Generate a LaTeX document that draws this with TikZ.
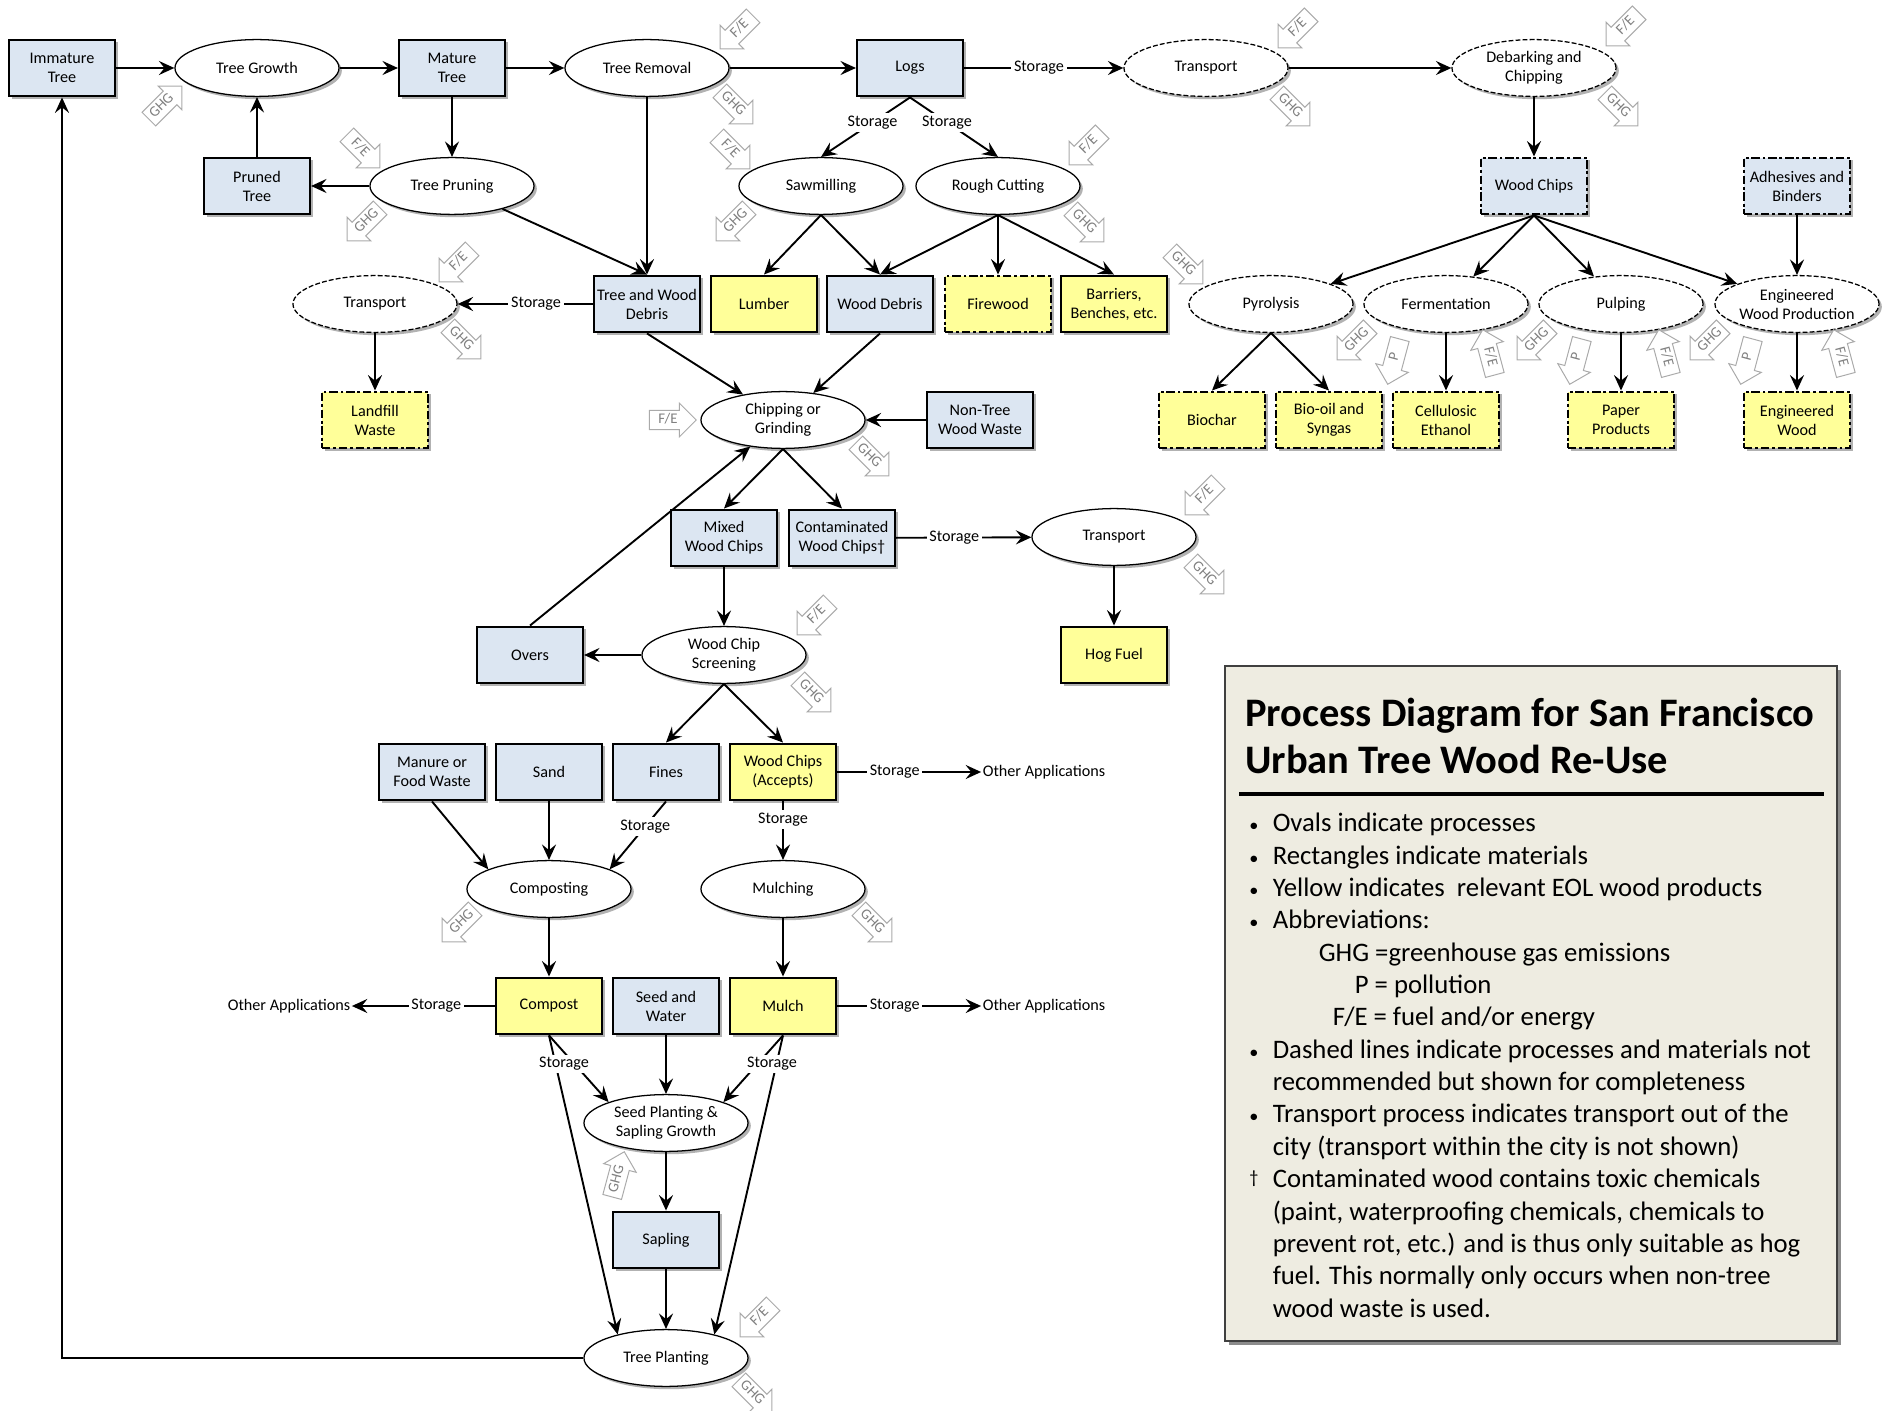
\documentclass[tikz,border=0pt]{standalone}
\usepackage{fontspec}
\setmainfont{Carlito}
\usetikzlibrary{
    arrows.meta,
    shapes.geometric,
    shapes.arrows,
    shadows
}
\definecolor{matblue}{RGB}{220,230,242}
\definecolor{prodyellow}{RGB}{255,255,153}
\definecolor{legendtan}{RGB}{238,236,225}
\definecolor{badgegray}{RGB}{170,170,170}
\definecolor{badgetext}{RGB}{128,128,128}

\newcommand{\legbullet}{{\fontsize{13}{13}\selectfont\textbullet}}
\newcommand{\legdagger}{\raisebox{0.35ex}{\fontsize{13}{13}\selectfont †}}

\tikzset{
    nodetext/.style={font=\fontsize{11.5}{13.5}\selectfont, align=center},
    nodeshadow/.style={drop shadow={shadow xshift=2pt, shadow yshift=-2pt, opacity=0.3, fill=black}},
    mat/.style={nodetext, nodeshadow, rectangle, draw, line width=1.5pt, fill=matblue,
        inner sep=1pt, minimum width=2.65cm, minimum height=1.42cm},
    matd/.style={mat, dash pattern=on 6pt off 2pt on 2pt off 2pt},
    prod/.style={mat, fill=prodyellow},
    prodd/.style={prod, dash pattern=on 6pt off 2pt on 2pt off 2pt},
    proc/.style={nodetext, nodeshadow, ellipse, draw, line width=0.9pt, fill=white,
        inner sep=0pt, minimum width=4.1cm, minimum height=1.42cm},
    procd/.style={proc, dash pattern=on 3.5pt off 1.5pt},
    lbl/.style={nodetext, fill=white, inner sep=2pt},
    plain/.style={nodetext, inner sep=1pt},
    flow/.style={line width=1.35pt, -{Stealth[length=11pt, width=10pt, inset=4pt]}},
    badge/.style={single arrow, draw=badgegray, fill=white, line width=0.7pt, text=badgetext,
        font=\fontsize{10.5}{10.5}\selectfont, text height=7pt, text depth=2pt, inner sep=2pt,
        minimum height=1.17cm, single arrow head extend=0.18cm, single arrow tip angle=90},
    badgeflip/.style={shape border rotate=180},
    legendbox/.style={draw=black!75, line width=1pt, fill=legendtan,
        drop shadow={shadow xshift=3pt, shadow yshift=-3pt, opacity=0.45, fill=black}},
}

\begin{document}
\begin{tikzpicture}[x=0.025cm, y=-0.025cm]
    \useasboundingbox (0,0) rectangle (1883,1411);

    % row 1
    \node[mat] (imm) at (62,68) {Immature\\Tree};
    \node[proc] (tg) at (257,68) {Tree Growth};
    \node[mat] (mat) at (452,68) {Mature\\Tree};
    \node[proc] (trem) at (647,68) {Tree Removal};
    \node[mat] (logs) at (910,68) {Logs};
    \node[procd] (trA) at (1206,68) {Transport};
    \node[procd] (deb) at (1534,68) {Debarking and\\Chipping};

    % row 2
    \node[mat] (pt) at (257,186) {Pruned\\Tree};
    \node[proc] (prun) at (452,186) {Tree Pruning};
    \node[proc] (saw) at (821,186) {Sawmilling};
    \node[proc] (rc) at (998,186) {Rough Cutting};
    \node[matd] (wc) at (1534,186) {Wood Chips};
    \node[matd] (adh) at (1797,186) {Adhesives and\\Binders};

    % row 3
    \node[procd] (trB) at (375,304) {Transport};
    \node[mat] (twd) at (647,304) {Tree and Wood\\Debris};
    \node[prod] (lum) at (764,304) {Lumber};
    \node[mat] (wd) at (880,304) {Wood Debris};
    \node[prodd] (fw) at (998,304) {Firewood};
    \node[prod] (bar) at (1114,304) {Barriers,\\Benches, etc.};
    \node[procd] (pyro) at (1271,304) {Pyrolysis};
    \node[procd] (ferm) at (1446,304) {Fermentation};
    \node[procd] (pulp) at (1621,304) {Pulping};
    \node[procd] (ewp) at (1797,304) {Engineered\\Wood Production};

    % row 4
    \node[prodd] (land) at (375,420) {Landfill\\Waste};
    \node[proc] (chip) at (783,420) {Chipping or\\Grinding};
    \node[mat] (ntww) at (980,420) {Non-Tree\\Wood Waste};
    \node[prodd] (bioc) at (1212,420) {Biochar};
    \node[prodd] (bio) at (1329,420) {Bio-oil and\\Syngas};
    \node[prodd] (cell) at (1446,420) {Cellulosic\\Ethanol};
    \node[prodd] (paper) at (1621,420) {Paper\\Products};
    \node[prodd] (ew) at (1797,420) {Engineered\\Wood};

    % rows 5 and 6
    \node[mat] (mixed) at (724,538) {Mixed\\Wood Chips};
    \node[mat] (cont) at (842,538) {Contaminated\\Wood Chips†};
    \node[proc] (trC) at (1114,537) {Transport};
    \node[mat] (overs) at (530,655) {Overs};
    \node[proc] (screen) at (724,655) {Wood Chip\\Screening};
    \node[prod] (hog) at (1114,655) {Hog Fuel};

    % rows 7 to 12
    \node[mat] (manure) at (432,772) {Manure or\\Food Waste};
    \node[mat] (sand) at (549,772) {Sand};
    \node[mat] (fines) at (666,772) {Fines};
    \node[prod] (acc) at (783,772) {Wood Chips\\(Accepts)};
    \node[plain] (oaA) at (1044,772) {Other Applications};
    \node[proc] (composting) at (549,889) {Composting};
    \node[proc] (mulching) at (783,889) {Mulching};
    \node[prod] (compost) at (549,1006) {Compost};
    \node[mat] (sw) at (666,1006) {Seed and\\Water};
    \node[prod] (mulch) at (783,1006) {Mulch};
    \node[plain] (oaB) at (289,1006) {Other Applications};
    \node[plain] (oaC) at (1044,1006) {Other Applications};
    \node[proc] (seed) at (666,1123) {Seed Planting \&\\Sapling Growth};
    \node[mat] (sap) at (666,1240) {Sapling};
    \node[proc] (tp) at (666,1358) {Tree Planting};

    % connectors
    \draw[flow] (imm) -- (tg);
    \draw[flow] (tg) -- (mat);
    \draw[flow] (mat) -- (trem);
    \draw[flow] (trem) -- (logs);
    \draw[flow] (logs) -- node[lbl, pos=0.47] {Storage} (trA);
    \draw[flow] (trA) -- (deb);
    \draw[flow] (deb) -- (wc);
    \draw[flow] (mat) -- (prun);
    \draw[flow] (prun) -- (pt);
    \draw[flow] (pt) -- (tg);
    \draw[flow] (prun) -- (twd.north);
    \draw[flow] (trem) -- (twd.north);
    \draw[flow] (logs.south) -- node[lbl, pos=0.42] {Storage} (saw.north);
    \draw[flow] (logs.south) -- node[lbl, pos=0.42] {Storage} (rc.north);
    \draw[flow] (saw.south) -- (lum.north);
    \draw[flow] (saw.south) -- (wd.north);
    \draw[flow] (rc.south) -- (wd.north);
    \draw[flow] (rc.south) -- (fw.north);
    \draw[flow] (rc.south) -- (bar.north);
    \draw[flow] (wc.south) -- (pyro);
    \draw[flow] (wc.south) -- (ferm);
    \draw[flow] (wc.south) -- (pulp);
    \draw[flow] (wc.south) -- (ewp);
    \draw[flow] (adh) -- (ewp);
    \draw[flow] (pyro.south) -- (bioc.north);
    \draw[flow] (pyro.south) -- (bio.north);
    \draw[flow] (ferm) -- (cell);
    \draw[flow] (pulp) -- (paper);
    \draw[flow] (ewp) -- (ew);
    \draw[flow] (twd) -- node[lbl, pos=0.42] {Storage} (trB);
    \draw[flow] (trB) -- (land);
    \draw[flow] (twd.south) -- (chip);
    \draw[flow] (wd.south) -- (chip);
    \draw[flow] (ntww) -- (chip);
    \draw[flow] (chip.south) -- (mixed.north);
    \draw[flow] (chip.south) -- (cont.north);
    \draw[flow] (cont) -- node[lbl, pos=0.43] {Storage} (trC);
    \draw[flow] (trC) -- (hog);
    \draw[flow] (mixed) -- (screen);
    \draw[flow] (screen) -- (overs);
    \draw[flow] (overs.north) -- (chip);
    \draw[flow] (screen.south) -- (fines.north);
    \draw[flow] (screen.south) -- (acc.north);
    \draw[flow] (acc) -- node[lbl, pos=0.4] {Storage} (oaA);
    \draw[flow] (acc) -- node[lbl, pos=0.31] {Storage} (mulching);
    \draw[flow] (fines.south) -- node[lbl, pos=0.37] {Storage} (composting.18);
    \draw[flow] (manure.south) -- (composting.162);
    \draw[flow] (sand) -- (composting);
    \draw[flow] (composting) -- (compost);
    \draw[flow] (mulching) -- (mulch);
    \draw[flow] (compost) -- node[lbl, pos=0.41] {Storage} (oaB);
    \draw[flow] (mulch) -- node[lbl, pos=0.4] {Storage} (oaC);
    \draw[flow] (compost.south) -- (seed.160);
    \draw[flow] (compost.south) -- (tp.154);
    \draw[flow] (mulch.south) -- (seed.20);
    \draw[flow] (mulch.south) -- (tp.26);
    \draw[flow] (sw) -- (seed);
    \draw[flow] (seed) -- (sap);
    \draw[flow] (sap) -- (tp);
    \draw[flow] (tp) -| (imm);
    \node[lbl] (stC) at (564,1064) {Storage};
    \node[lbl] (stM) at (772,1064) {Storage};

    % emission and energy badges
    \node[badge, rotate=45] (ghgTG) at (162,106) {GHG};
    \node[badge, rotate=-45] (feTP) at (360,148) {F/E};
    \node[badge, rotate=45, badgeflip] (ghgTP) at (367,221) {GHG};
    \node[badge, rotate=45, badgeflip] (feTR) at (740,29) {F/E};
    \node[badge, rotate=-45] (ghgTR) at (733,104) {GHG};
    \node[badge, rotate=-45] (feSM) at (730,149) {F/E};
    \node[badge, rotate=45, badgeflip] (ghgSM) at (736,221) {GHG};
    \node[badge, rotate=45, badgeflip] (feRC) at (1089,145) {F/E};
    \node[badge, rotate=-45] (ghgRC) at (1084,222) {GHG};
    \node[badge, rotate=45, badgeflip] (feTA) at (1298,28) {F/E};
    \node[badge, rotate=-45] (ghgTA) at (1290,106) {GHG};
    \node[badge, rotate=45, badgeflip] (feDC) at (1626,26) {F/E};
    \node[badge, rotate=-45] (ghgDC) at (1618,106) {GHG};
    \node[badge, rotate=-45] (ghgPY) at (1183,264) {GHG};
    \node[badge, rotate=45, badgeflip] (ghgFM) at (1357,340) {GHG};
    \node[badge, rotate=75, badgeflip] (pFM) at (1395,357) {P};
    \node[badge, rotate=-75, badgeflip] (feFM) at (1490,357) {F/E};
    \node[badge, rotate=45, badgeflip] (ghgPU) at (1537,340) {GHG};
    \node[badge, rotate=75, badgeflip] (pPU) at (1577,357) {P};
    \node[badge, rotate=-75, badgeflip] (fePU) at (1666,357) {F/E};
    \node[badge, rotate=45, badgeflip] (ghgEW) at (1710,340) {GHG};
    \node[badge, rotate=75, badgeflip] (pEW) at (1748,357) {P};
    \node[badge, rotate=-75, badgeflip] (feEW) at (1841,357) {F/E};
    \node[badge, rotate=45, badgeflip] (feTB) at (459,262) {F/E};
    \node[badge, rotate=-45] (ghgTB) at (461,339) {GHG};
    \node[badge] (feCG) at (668,420) {F/E};
    \node[badge, rotate=-45] (ghgCG) at (869,456) {GHG};
    \node[badge, rotate=45, badgeflip] (feTC) at (1205,495) {F/E};
    \node[badge, rotate=-45] (ghgTC) at (1204,574) {GHG};
    \node[badge, rotate=45, badgeflip] (feWS) at (817,615) {F/E};
    \node[badge, rotate=-45] (ghgWS) at (811,692) {GHG};
    \node[badge, rotate=45, badgeflip] (ghgCO) at (462,922) {GHG};
    \node[badge, rotate=-45] (ghgMU) at (872,922) {GHG};
    \node[badge, rotate=75] (ghgSP) at (617,1179) {GHG};
    \node[badge, rotate=45, badgeflip] (feTL) at (760,1317) {F/E};
    \node[badge, rotate=-45] (ghgTL) at (752,1393) {GHG};

    % legend
    \node[legendbox, minimum width=15.3cm, minimum height=16.875cm] (legend) at (1531,1003.5) {};
    \node[anchor=west, align=left, inner sep=0pt, font=\fontsize{28.8}{34}\selectfont\bfseries]
        (legtitle) at (1245,736) {Process Diagram for San Francisco\\Urban Tree Wood Re-Use};
    \draw[line width=2.2pt] (1239,794) -- (1824,794);
    \node[anchor=west, inner sep=0pt, font=\fontsize{19}{23}\selectfont] (legbody) at (1249,1068) {%
        \begin{tabular}{@{}l@{\hspace{0.36cm}}l@{}}
        \legbullet & Ovals indicate processes\\
        \legbullet & Rectangles indicate materials\\
        \legbullet & Yellow indicates\ \ relevant EOL wood products\\
        \legbullet & Abbreviations:\\
         & \hspace{1.15cm}GHG =greenhouse gas emissions\\
         & \hspace{2.05cm}P = pollution\\
         & \hspace{1.5cm}F/E = fuel and/or energy\\
        \legbullet & Dashed lines indicate processes and materials not\\
         & recommended but shown for completeness\\
        \legbullet & Transport process indicates transport out of the\\
         & city (transport within the city is not shown)\\
        \legdagger & Contaminated wood contains toxic chemicals\\
         & (paint, waterproofing chemicals, chemicals to\\
         & prevent rot, etc.) and is thus only suitable as hog\\
         & fuel. This normally only occurs when non-tree\\
         & wood waste is used.
        \end{tabular}};
\end{tikzpicture}
\end{document}
